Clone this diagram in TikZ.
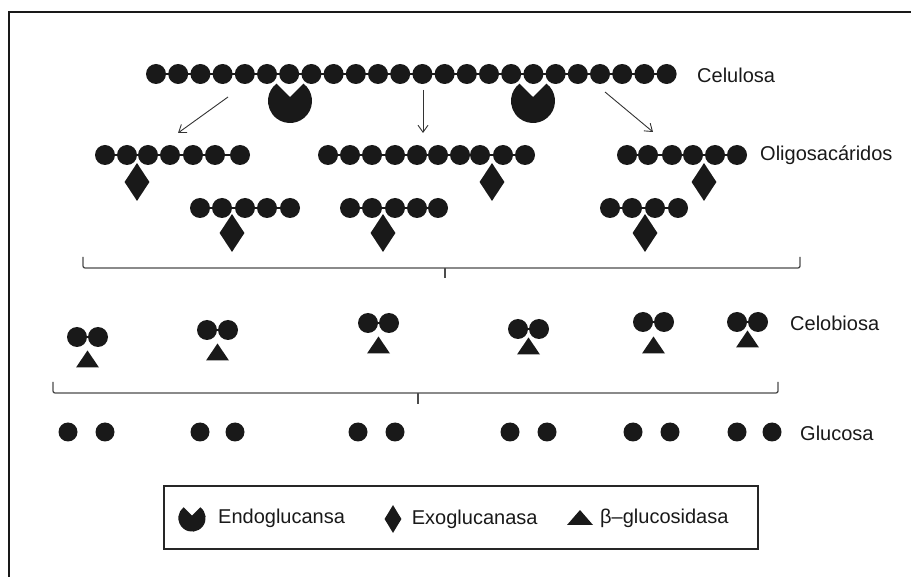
\documentclass[tikz,border=0pt]{standalone}
\usepackage{fontspec}
\setmainfont{Liberation Sans}
\usepackage{tikz}
\usetikzlibrary{arrows.meta, positioning, calc, shapes.geometric}

\begin{document}
\begin{tikzpicture}[
    x=1pt, y=-1pt,   % one unit = one pixel of the source, y downwards
    font=\fontsize{20}{24}\selectfont,
    bead/.style={circle, fill=black!90, inner sep=0pt, minimum size=20pt},
    gbead/.style={bead, minimum size=19pt},
    link/.style={line width=1.4pt, black!90},
    exo/.style={diamond, fill=black!90, inner sep=0pt, minimum width=25pt, minimum height=38pt},
    lbl/.style={anchor=west, text=black!90, inner sep=0pt},
    arr/.style={-{Straight Barb[length=7pt, width=10pt]}, line width=0.9pt, black!80},
    brace/.style={line width=1.3pt, black!70, rounded corners=2pt},
    endo/.pic={\fill[black!90] (0,-4) -- (308:22) arc[start angle=308, end angle=592, radius=22] -- cycle;},
    beta/.pic={\fill[black!90] (0,-8.5) -- (11.5,8.5) -- (-11.5,8.5) -- cycle;}
]
\useasboundingbox (0,0) rectangle (911,577);

% Frame
\draw[line width=2pt, black!90] (911,12) -- (9,12) -- (9,577);

% Celulosa chain
\foreach \i in {1,...,24}
  \node[bead] (cel\i) at ({156+22.2*(\i-1)}, 74) {};
\draw[link] (cel1.center) -- (cel24.center);
\pic at (290,101) {endo};
\pic at (533,101) {endo};
\node[lbl] (celulosa) at (697,75) {Celulosa};

% Cuts
\coordinate (cutL) at (228,97);
\coordinate (cutM) at (423,90);
\coordinate (cutR) at (605,92);
\coordinate (oliL) at (178,133);
\coordinate (oliM) at (423,133);
\coordinate (oliR) at (653,132);
\draw[arr] (cutL) -- (oliL);
\draw[arr] (cutM) -- (oliM);
\draw[arr] (cutR) -- (oliR);

% Oligosacaridos, first row
\foreach \x [count=\i] in {105,127,148,170,193,215,240}
  \node[bead] (oa\i) at (\x,155) {};
\draw[link] (oa1.center) -- (oa7.center);
\node[exo] (exa) at (137,182) {};

\foreach \x [count=\i] in {328,350,372,395,417,438,460,480,503,525}
  \node[bead] (ob\i) at (\x,155) {};
\draw[link] (ob1.center) -- (ob10.center);
\node[exo] (exb) at (492,182) {};

\foreach \x [count=\i] in {627,648,672,693,715,737}
  \node[bead] (oc\i) at (\x,155) {};
\draw[link] (oc1.center) -- (oc6.center);
\node[exo] (exc) at (704,182) {};

\node[lbl] (oligo) at (760,155) {Oligosacáridos};

% Oligosacaridos, second row
\foreach \x [count=\i] in {200,222,245,267,290}
  \node[bead] (od\i) at (\x,208) {};
\draw[link] (od1.center) -- (od5.center);
\node[exo] (exd) at (232,233) {};

\foreach \x [count=\i] in {350,372,395,417,438}
  \node[bead] (oe\i) at (\x,208) {};
\draw[link] (oe1.center) -- (oe5.center);
\node[exo] (exe) at (383,233) {};

\foreach \x [count=\i] in {610,632,655,678}
  \node[bead] (of\i) at (\x,208) {};
\draw[link] (of1.center) -- (of4.center);
\node[exo] (exf) at (645,233) {};

% Brace
\draw[brace] (83,257) -- (83,268) -- (800,268) -- (800,257);
\draw[brace] (445,268) -- (445,278);

% Celobiosa
\foreach \x/\y/\t [count=\i] in {77/337/359, 207/330/352, 368/323/345, 518/329/346, 643/322/345, 737/322/339} {
  \node[bead] (cb\i-a) at (\x,\y) {};
  \node[bead] (cb\i-b) at (\x+21,\y) {};
  \draw[link] (cb\i-a) -- (cb\i-b);
  \pic at (\x+10.5,\t) {beta};
}
\node[lbl] (celobiosa) at (790,323) {Celobiosa};

% Brace
\draw[brace] (53,382) -- (53,393) -- (778,393) -- (778,382);
\draw[brace] (418,393) -- (418,404);

% Glucosa
\foreach \x/\xx [count=\i] in {68/105, 200/235, 358/395, 510/547, 633/670, 737/772} {
  \node[gbead] (gl\i-a) at (\x,432) {};
  \node[gbead] (gl\i-b) at (\xx,432) {};
}
\node[lbl] (glucosa) at (800,433) {Glucosa};

% Legend
\node[draw, line width=1.3pt, black!85, minimum width=594pt, minimum height=63pt, inner sep=0pt] (legend) at (461,517.5) {};
\pic[scale=0.62] at (192,518) {endo};
\node[lbl] (endotxt) at (218,518) {Endoglucansa};
\node[exo, minimum width=17pt, minimum height=28pt] (exol) at (393,519) {};
\node[lbl, right=10pt of exol] (exotxt) {Exoglucanasa};
\pic[xscale=1.13, yscale=0.88] at (580,517.5) {beta};
\node[lbl] (betatxt) at (600,518) {β--glucosidasa};

\end{tikzpicture}
\end{document}
